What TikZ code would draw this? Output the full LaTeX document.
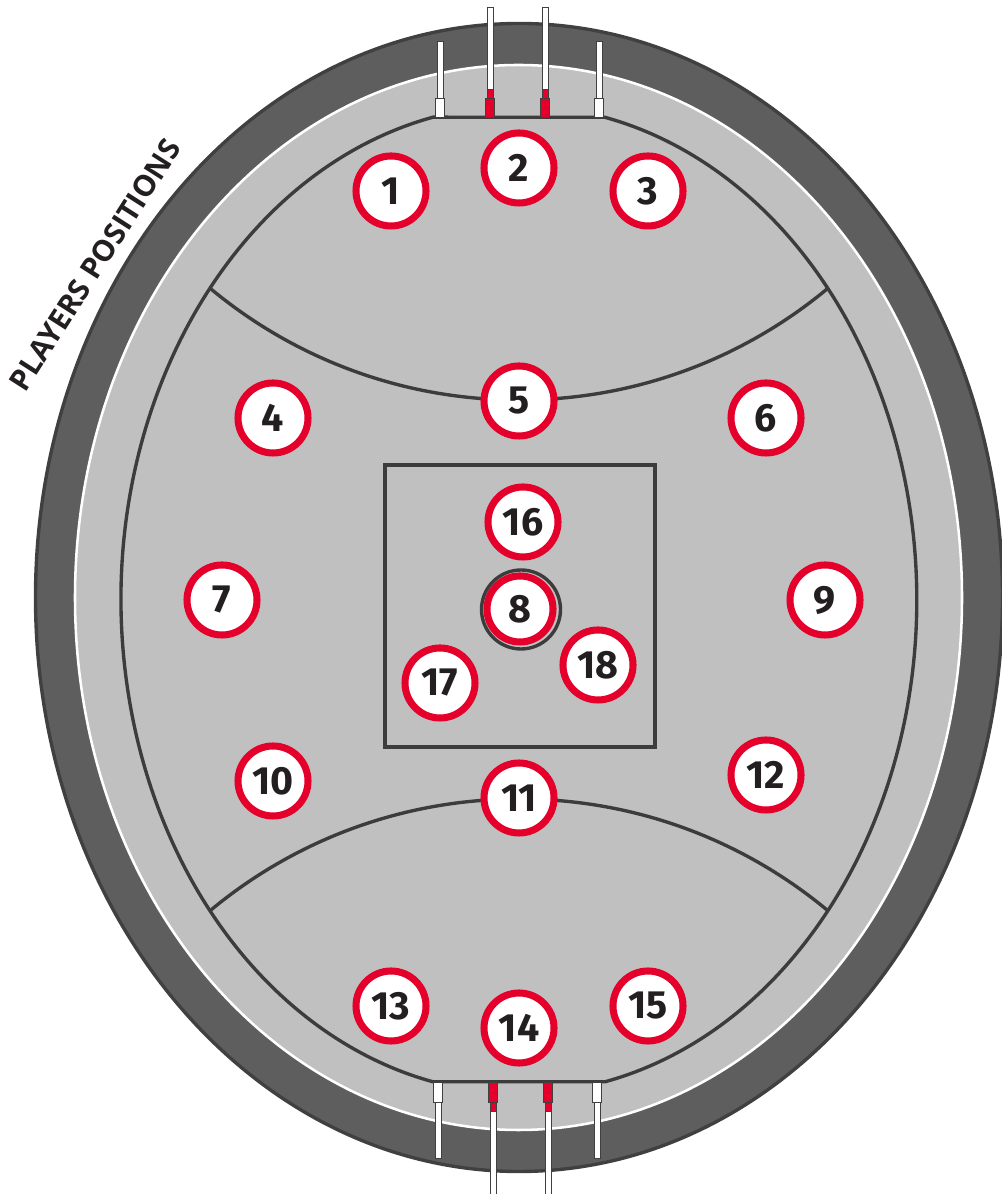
\documentclass[tikz,border=0pt]{standalone}
\usepackage{fontspec}
\setmainfont{Fira Sans}
\newfontfamily\titlefont{Open Sans}
\usepackage{tikz}
\usetikzlibrary{positioning}
\definecolor{ovalDark}{RGB}{94,94,94}
\definecolor{ovalEdge}{RGB}{64,64,64}
\definecolor{ovalGrass}{RGB}{192,192,192}
\definecolor{lineDark}{RGB}{60,60,60}
\definecolor{posRed}{RGB}{228,0,43}
\definecolor{numInk}{RGB}{35,31,32}
\tikzset{
  player/.style={circle, draw=posRed, fill=white, line width=5pt, minimum size=1.75cm,
                 inner sep=0pt, text=numInk, font=\bfseries\fontsize{28}{28}\selectfont},
  fieldline/.style={draw=lineDark, line width=2.4pt},
  postpart/.style={draw=ovalEdge, line width=0.6pt},
}
\newcommand{\fieldpath}{(433,1076.8) arc[start angle=102.48, end angle=257.52, x radius=398, y radius=494]
  -- (605,112.2) arc[start angle=282.52, end angle=437.52, x radius=398, y radius=494] -- cycle}

\begin{document}
\begin{tikzpicture}[x=0.025cm, y=0.025cm]
  \useasboundingbox (0,0) rectangle (1001,1194);

  \draw[fill=ovalDark, draw=ovalEdge, line width=2.4pt] (519,596.5) ellipse [x radius=483.5, y radius=574];
  \draw[fill=ovalGrass, draw=white, line width=1.8pt] (518.5,596.5) ellipse [x radius=443.5, y radius=532.5];

  \begin{scope}
    \clip \fieldpath;
    \draw[fieldline] (519,1276.9) circle [radius=482.9];
    \draw[fieldline] (519,-87.9) circle [radius=482.9];
  \end{scope}
  \draw[fieldline] \fieldpath;
  \draw[fieldline] (385,447) rectangle (655,729);
  \draw[fieldline] (521,584.5) circle [radius=39.5];

  % goal and behind posts
  \foreach \px in {440,599} {
    \draw[postpart, fill=white] (\px-3,1096) rectangle (\px+3,1153);
    \draw[postpart, fill=white] (\px-4.5,1077) rectangle (\px+4.5,1096);
  }
  \foreach \px in {490,545} {
    \draw[postpart, fill=white] (\px-3,1096) rectangle (\px+3,1187);
    \draw[postpart, fill=posRed] (\px-3,1096) rectangle (\px+3,1105);
    \draw[postpart, fill=posRed] (\px-4.5,1077) rectangle (\px+4.5,1096);
  }
  \foreach \px in {438,597} {
    \draw[postpart, fill=white] (\px-3,36) rectangle (\px+3,92);
    \draw[postpart, fill=white] (\px-4.5,92) rectangle (\px+4.5,112);
  }
  \foreach \px in {493,548} {
    \draw[postpart, fill=white] (\px-3,-5) rectangle (\px+3,92);
    \draw[postpart, fill=posRed] (\px-3,83) rectangle (\px+3,92);
    \draw[postpart, fill=posRed] (\px-4.5,92) rectangle (\px+4.5,112);
  }

  \foreach \n/\px/\py in {1/391/1003, 2/519/1026, 3/648/1003, 4/273/776, 5/519/793,
      6/766/776, 7/222/594, 9/825/594, 10/273/413, 11/519/396, 12/766/419,
      13/391/188, 14/519/166, 15/648/188, 16/523/672, 17/440/511, 18/598/529}
    \node[player] (p\n) at (\px,\py) {\n};
  \node[player, minimum size=1.65cm] (p8) at (520,585) {8};

  \node[rotate=57.4, text=numInk, font=\titlefont\bfseries\fontsize{21}{21}\selectfont]
    (title) at (95,929) {PLAYERS POSITIONS};
\end{tikzpicture}
\end{document}
